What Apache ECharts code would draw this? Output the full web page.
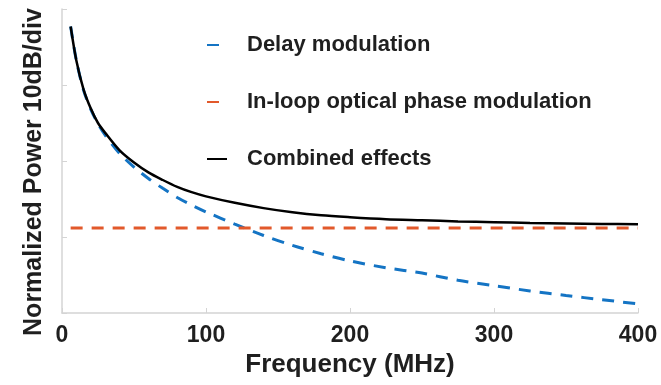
<!DOCTYPE html>
<html>
<head>
<meta charset="utf-8">
<script src="https://cdn.jsdelivr.net/npm/echarts@6/dist/echarts.min.js"></script>
<style>
html,body{margin:0;padding:0;background:#fff;}
#chart{width:661px;height:385px;}
</style>
</head>
<body>
<div id="chart"></div>
<script>
// Frequency grid (MHz)
var freq = [6, 10, 15, 20, 25, 30, 40, 50, 60, 70, 80, 90, 100, 120, 140, 160, 180, 200, 225, 250, 275, 300, 325, 350, 375, 400];
// Delay modulation (dB, 10 dB/div, 0 = bottom of axis)
var delayDb = [37.7, 33.2, 29.3, 26.8, 24.9, 23.4, 21.0, 19.2, 17.7, 16.4, 15.2, 14.2, 13.3, 11.7, 10.2, 8.9, 7.8, 6.85, 5.95, 5.25, 4.3, 3.6, 2.9, 2.3, 1.75, 1.2];
// Combined effects (dB)
var combinedDb = [37.7, 33.2, 29.4, 26.9, 25.0, 23.7, 21.4, 19.8, 18.5, 17.5, 16.6, 15.9, 15.35, 14.5, 13.8, 13.25, 12.85, 12.6, 12.35, 12.2, 12.05, 11.95, 11.85, 11.78, 11.72, 11.68];
// In-loop optical phase modulation (dB), flat
var inloopFreq = [6, 400];
var inloopDb = [11.2, 11.2];

var xTicks = [0, 100, 200, 300, 400];
var yTicks = [0, 10, 20, 30, 40];

function pairs(xs, ys) { return xs.map(function (x, i) { return [x, ys[i]]; }); }

var FONT = '"Liberation Sans", Arial, sans-serif';
var TXT = '#1f1f1f';
var AXC = '#d4d4d4';

var chart = echarts.init(document.getElementById('chart'), null, {renderer: 'canvas'});
chart.setOption({
  animation: false,
  backgroundColor: '#ffffff',
  grid: {left: 62, right: 23, top: 9, bottom: 72},
  legend: {
    orient: 'vertical',
    left: 206,
    top: 34,
    padding: 0,
    itemWidth: 20,
    itemHeight: 14,
    itemGap: 35,
    itemStyle: {opacity: 0},
    data: ['Delay modulation', 'In-loop optical phase modulation', 'Combined effects'],
    textStyle: {fontFamily: FONT, fontWeight: 'bold', fontSize: 22, color: TXT, lineHeight: 22, padding: [0, 0, 0, 15]}
  },
  xAxis: {
    type: 'value',
    min: xTicks[0], max: xTicks[xTicks.length - 1], interval: 100,
    name: 'Frequency (MHz)',
    nameLocation: 'middle',
    nameGap: 39,
    nameTextStyle: {fontFamily: FONT, fontWeight: 'bold', fontSize: 26, color: TXT},
    axisLine: {show: true, lineStyle: {color: AXC, width: 1.5}},
    axisTick: {show: true, inside: true, length: 5, lineStyle: {color: AXC, width: 1}},
    axisLabel: {fontFamily: FONT, fontWeight: 'bold', fontSize: 23, color: TXT, margin: 11},
    splitLine: {show: false}
  },
  yAxis: {
    type: 'value',
    min: yTicks[0], max: yTicks[yTicks.length - 1], interval: 10,
    axisLine: {show: true, lineStyle: {color: AXC, width: 1.5}},
    axisTick: {show: true, inside: true, length: 5, lineStyle: {color: AXC, width: 1}},
    axisLabel: {show: false},
    splitLine: {show: false}
  },
  graphic: [{
    type: 'text',
    x: 34, y: 172,
    rotation: Math.PI / 2,
    style: {
      text: 'Normalized Power 10dB/div',
      fontFamily: FONT, fontWeight: 'bold', fontSize: 25, fill: TXT,
      textAlign: 'center', textVerticalAlign: 'middle'
    }
  }],
  series: [
    {
      name: 'Delay modulation', type: 'line', data: pairs(freq, delayDb),
      symbol: 'none', smooth: 0.3, z: 2,
      lineStyle: {color: '#1474c4', width: 3, type: [12, 9]},
      itemStyle: {color: '#1474c4'}
    },
    {
      name: 'In-loop optical phase modulation', type: 'line', data: pairs(inloopFreq, inloopDb),
      symbol: 'none', z: 2,
      lineStyle: {color: '#e2592b', width: 3, type: [12, 9]},
      itemStyle: {color: '#e2592b'}
    },
    {
      name: 'Combined effects', type: 'line', data: pairs(freq, combinedDb),
      symbol: 'none', smooth: 0.3, z: 3,
      lineStyle: {color: '#000000', width: 2.5, type: 'solid'},
      itemStyle: {color: '#000000'}
    }
  ]
});
</script>
</body>
</html>
